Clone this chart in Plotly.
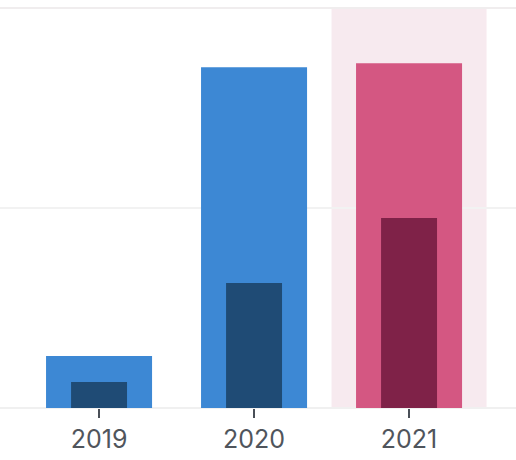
import plotly.graph_objects as go

years = ["2019", "2020", "2021"]
total_values = [13, 85.2, 86.2]
part_values = [6.5, 31.25, 47.5]
total_colors = ["#3D88D4", "#3D88D4", "#D45782"]
part_colors = ["#1F4B75", "#1F4B75", "#7F2248"]
highlight_year = "2021"
grid_values = [0, 50, 100]

fig = go.Figure()
fig.add_trace(go.Bar(x=years, y=total_values, width=0.684,
                     marker=dict(color=total_colors, line=dict(width=0)),
                     hoverinfo="skip"))
fig.add_trace(go.Bar(x=years, y=part_values, width=0.361,
                     marker=dict(color=part_colors, line=dict(width=0)),
                     hoverinfo="skip"))

hi = years.index(highlight_year)
fig.add_shape(type="rect", xref="x", yref="paper", x0=hi - 0.5, x1=hi + 0.5,
              y0=0, y1=1, fillcolor="#F7EAEF", line=dict(width=0), layer="below")
fig.add_shape(type="line", xref="paper", yref="y", x0=0, x1=1,
              y0=grid_values[-1], y1=grid_values[-1],
              line=dict(color="#F0EDEE", width=2), layer="below")

fig.update_layout(
    width=516, height=460,
    margin=dict(l=0, r=0, t=7, b=52),
    barmode="overlay",
    showlegend=False,
    plot_bgcolor="white",
    paper_bgcolor="white",
    font=dict(family="Inter, Liberation Sans, sans-serif", size=25, color="#50555C"),
    xaxis=dict(type="category", range=[-0.639, 2.690], ticks="outside", ticklen=9,
               tickwidth=2, tickcolor="#4A4F57", showgrid=False, showline=False,
               zeroline=False),
    yaxis=dict(range=[0, 100.25], tickvals=grid_values, showticklabels=False, showgrid=True,
               gridcolor="#F2F2F2", gridwidth=1.5, zeroline=True,
               zerolinecolor="#F0F0F0", zerolinewidth=2, layer="below traces"),
)

fig.write_html("out.html", config={"displayModeBar": False},
               post_script="document.body.style.margin='0';document.body.style.padding='0';")
